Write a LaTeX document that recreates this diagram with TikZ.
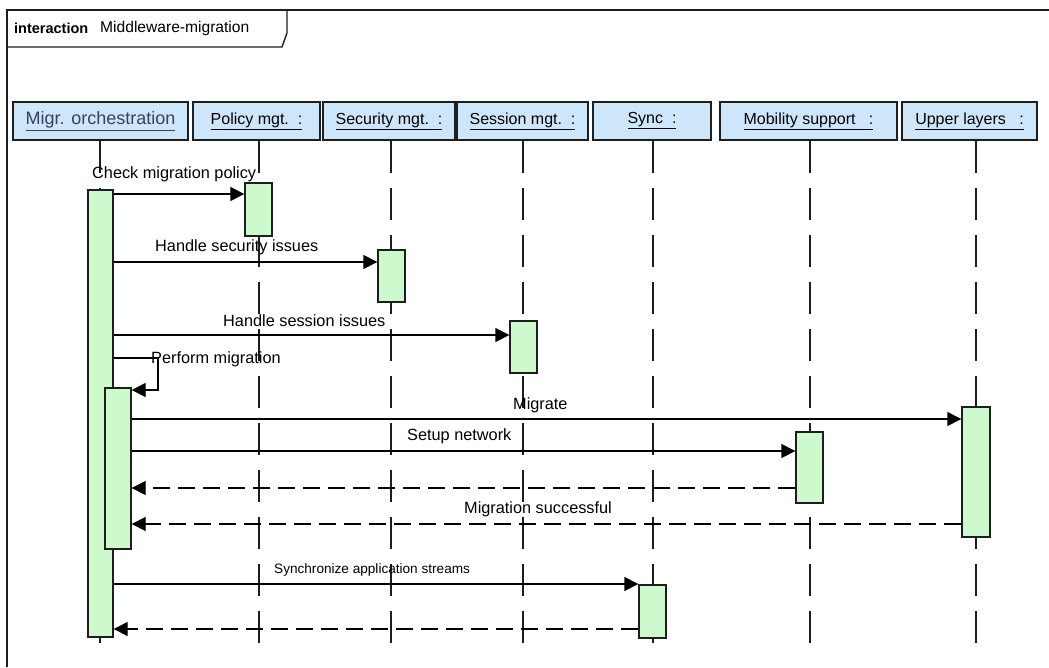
\documentclass[tikz,border=0pt]{standalone}
\usepackage{fontspec}
\setmainfont{Liberation Sans}
\usetikzlibrary{arrows.meta}
\definecolor{hdrfill}{RGB}{206,230,250}
\definecolor{actfill}{RGB}{204,250,204}
\definecolor{edge}{RGB}{30,30,30}
\definecolor{mtext}{RGB}{60,64,96}

\begin{document}
\begin{tikzpicture}[x=1pt,y=-1pt,
  hdr/.style={draw=edge, line width=1.6pt, fill=hdrfill, minimum height=38pt,
              inner sep=0pt, font=\fontsize{16}{18}\selectfont},
  act/.style={draw=edge, line width=1.4pt, fill=actfill, minimum width=26pt, inner sep=0pt},
  life/.style={line width=1.5pt, edge, dash pattern=on 32pt off 15pt},
  msg/.style={line width=1.4pt, black, -{Triangle[length=14pt,width=14pt]}},
  ret/.style={msg, dash pattern=on 17pt off 8pt},
  lbl/.style={font=\fontsize{16.3}{18}\selectfont, inner sep=0pt, anchor=west},
]
\fill[white] (0,0) rectangle (1049,667);
\useasboundingbox (0,0) rectangle (1049,667);

% frame and title tab
\draw[line width=2pt, edge] (7,667) -- (7,10) -- (1049,10);
\draw[line width=1.4pt, edge] (7,47) -- (282,47) -- (287,33) -- (287,10);
\node[anchor=west, inner sep=0pt, font=\fontsize{14.5}{16}\selectfont\bfseries] (kw) at (14,28) {interaction};
\node[anchor=west, inner sep=0pt, font=\fontsize{15.6}{18}\selectfont] (title) at (100,28) {Middleware-migration};

% lifeline heads
\node[hdr, minimum width=175pt, font=\fontsize{18}{20}\selectfont] (hmo) at (100.5,121) {\color{mtext}\underline{Migr. orchestration}};
\node[hdr, minimum width=127pt] (hpol) at (256.5,121) {\underline{Policy mgt.\ \ :}};
\node[hdr, minimum width=132pt] (hsec) at (389,121) {\underline{Security mgt.\ \ :}};
\node[hdr, minimum width=131pt] (hses) at (522.5,121) {\underline{Session mgt.\ \ :}};
\node[hdr, minimum width=118pt] (hsyn) at (652,121) {\underline{Sync\ \ :}};
\node[hdr, minimum width=177pt] (hmob) at (808.5,121) {\underline{Mobility support\ \ \ :}};
\node[hdr, minimum width=135pt] (hup) at (969.5,121) {\underline{Upper layers\ \ \ :}};

% lifeline ends
\coordinate (emo) at (100,643);
\coordinate (epol) at (259,643);
\coordinate (esec) at (391,643);
\coordinate (eses) at (523,643);
\coordinate (esyn) at (653,643);
\coordinate (emob) at (810,643);
\coordinate (eup) at (976,643);
\foreach \h/\e in {hmo/emo, hpol/epol, hsec/esec, hses/eses, hsyn/esyn, hmob/emob, hup/eup}
  \draw[life] (\h.south -| \e) -- (\e);

% activations
\node[act, minimum width=25pt, minimum height=447pt] (amo) at (100.5,413.5) {};
\node[act, minimum height=161pt] (anest) at (118,468.5) {};
\node[act, minimum width=27pt, minimum height=53pt] (apol) at (258.5,209.5) {};
\node[act, minimum width=27pt, minimum height=52pt] (asec) at (391.5,276) {};
\node[act, minimum width=27pt, minimum height=52pt] (ases) at (523.5,347) {};
\node[act, minimum width=27pt, minimum height=53pt] (asyn) at (652.5,611.5) {};
\node[act, minimum width=27pt, minimum height=71pt] (amob) at (809.5,467.5) {};
\node[act, minimum width=28pt, minimum height=130pt] (aup) at (976,472) {};

% message rows
\coordinate (y1) at (0,194);
\coordinate (y2) at (0,262);
\coordinate (y3) at (0,335);
\coordinate (y4a) at (0,358);
\coordinate (y4b) at (0,390);
\coordinate (y5) at (0,419);
\coordinate (y6) at (0,451);
\coordinate (y7) at (0,488);
\coordinate (y8) at (0,524);
\coordinate (y9) at (0,584);
\coordinate (y10) at (0,629);
\coordinate (loop) at (158,0);

\draw[msg] (amo.east |- y1) -- (apol.west |- y1);
\draw[msg] (amo.east |- y2) -- (asec.west |- y2);
\draw[msg] (amo.east |- y3) -- (ases.west |- y3);
\draw[msg] (amo.east |- y4a) -- (loop |- y4a) -- (loop |- y4b) -- (anest.east |- y4b);
\draw[msg] (anest.east |- y5) -- (aup.west |- y5);
\draw[msg] (anest.east |- y6) -- (amob.west |- y6);
\draw[ret] (amob.west |- y7) -- (anest.east |- y7);
\draw[ret] (aup.west |- y8) -- (anest.east |- y8);
\draw[msg] (amo.east |- y9) -- (asyn.west |- y9);
\draw[ret] (asyn.west |- y10) -- (amo.east |- y10);

% message labels
\node[lbl] (l1) at (92,174) {Check migration policy};
\node[lbl] (l2) at (155,247) {Handle security issues};
\node[lbl] (l3) at (223,321) {Handle session issues};
\node[lbl] (l4) at (151,359) {Perform migration};
\node[lbl] (l5) at (513,405) {Migrate};
\node[lbl] (l6) at (407,436) {Setup network};
\node[lbl] (l8) at (464,509) {Migration successful};
\node[lbl, font=\fontsize{13.6}{15}\selectfont] (l9) at (274,570) {Synchronize application streams};
\end{tikzpicture}
\end{document}
